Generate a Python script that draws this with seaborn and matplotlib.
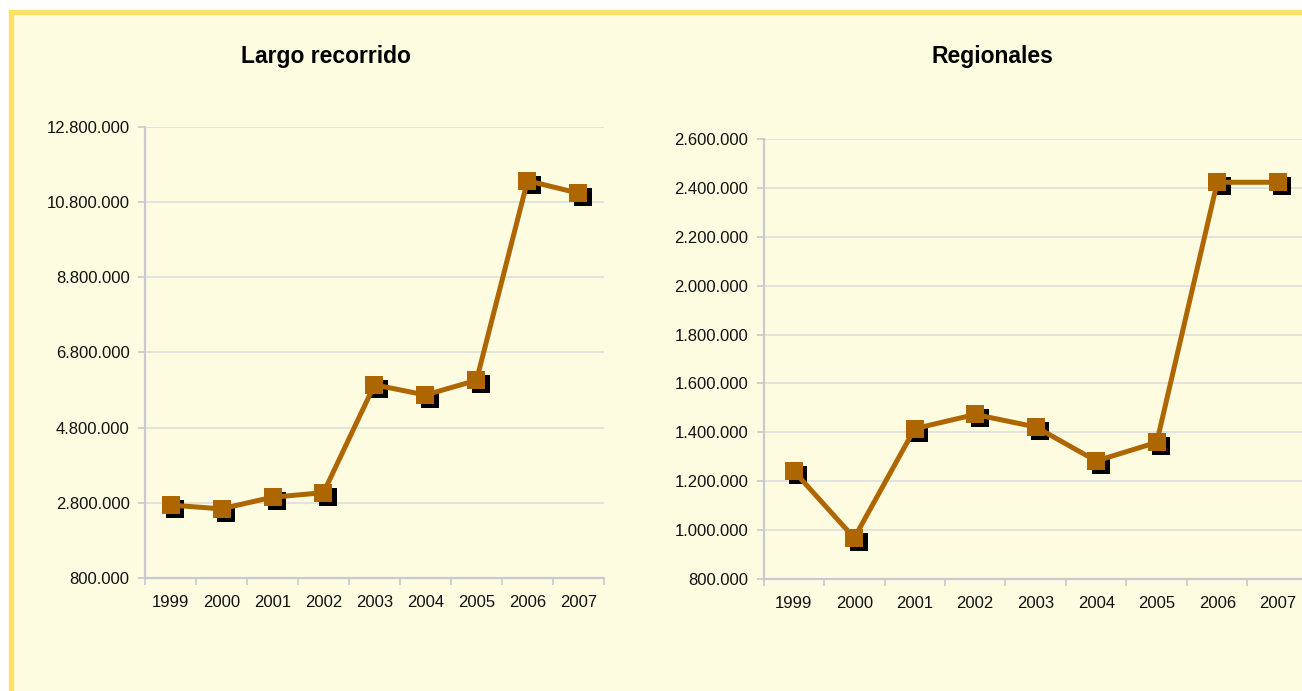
import numpy as np
import pandas as pd
import seaborn as sns
import matplotlib
matplotlib.use("Agg")
import matplotlib.pyplot as plt
from matplotlib.patches import Rectangle
from matplotlib.transforms import ScaledTranslation
from matplotlib.ticker import FuncFormatter, FixedLocator

years = ["1999", "2000", "2001", "2002", "2003", "2004", "2005", "2006", "2007"]
largo_recorrido = [2740000, 2640000, 2950000, 3070000, 5940000, 5670000, 6060000, 11370000, 11040000]
regionales = [1242000, 968000, 1415000, 1473000, 1422000, 1283000, 1359000, 2423000, 2423000]
titles = ["Largo recorrido", "Regionales"]
left_ticks = [800000, 2800000, 4800000, 6800000, 8800000, 10800000, 12800000]
right_ticks = [800000, 1000000, 1200000, 1400000, 1600000, 1800000, 2000000, 2200000, 2400000, 2600000]

sns.set_theme(style="white")
plt.rcParams['font.family'] = ['Liberation Sans', 'DejaVu Sans']

W, H = 1302, 691
fig = plt.figure(figsize=(W / 100, H / 100), dpi=100, facecolor="white")

bg = "#FEFCE0"
border = "#FFE066"
line_c = "#AE6600"
grid_c = "#DEDEDE"
spine_c = "#C9C9CF"

bg_rect = Rectangle((10.5 / W, -0.2), 1.3, 1 - 11.5 / H + 0.2, transform=fig.transFigure,
                    facecolor=bg, edgecolor=border, linewidth=3.8, zorder=-10)
fig.patches.append(bg_rect)


def fmt(v, pos=None):
    return f"{int(round(v)):,}".replace(",", ".")


def draw(ax, values, ticks, title, title_x):
    df = pd.DataFrame({"x": np.arange(len(years)), "y": values})
    ax.set_facecolor("none")
    ax.patch.set_alpha(0)
    sns.lineplot(data=df, x="x", y="y", ax=ax, color=line_c, linewidth=3.6, zorder=3,
                 solid_joinstyle="miter")
    shadow_tr = ax.transData + ScaledTranslation(4.5 / 100, -4 / 100, fig.dpi_scale_trans)
    sns.scatterplot(data=df, x="x", y="y", ax=ax, marker="s", s=150, color="black",
                    linewidth=0, zorder=2, transform=shadow_tr, legend=False)
    sns.scatterplot(data=df, x="x", y="y", ax=ax, marker="s", s=150, color=line_c,
                    linewidth=0, zorder=4, legend=False)
    ax.set_xlim(-0.5, len(years) - 0.5)
    ax.set_ylim(ticks[0], ticks[-1])
    ax.yaxis.set_major_locator(FixedLocator(ticks))
    ax.yaxis.set_major_formatter(FuncFormatter(fmt))
    ax.grid(axis="y", color=grid_c, linewidth=1.2, zorder=1)
    ax.set_axisbelow(True)
    ax.set_xticks(np.arange(len(years)))
    ax.set_xticklabels(years)
    ax.set_xticks(np.arange(-0.5, len(years)), minor=True)
    ax.tick_params(axis="x", which="major", length=0, pad=12, labelsize=12, colors="#111111")
    ax.tick_params(axis="x", which="minor", length=5, width=1.2, color=spine_c, direction="out",
                   bottom=True)
    ax.tick_params(axis="y", which="major", length=5, width=1.2, color=spine_c, direction="out",
                   pad=6, labelsize=12, labelcolor="#111111", left=True)
    ax.set_xlabel("")
    ax.set_ylabel("")
    for s in ["top", "right"]:
        ax.spines[s].set_visible(False)
    for s in ["left", "bottom"]:
        ax.spines[s].set_color(spine_c)
        ax.spines[s].set_linewidth(1.6)
    fig.text(title_x / W, 1 - 57 / H, title, ha="center", va="center", fontsize=16.5,
             fontweight="bold", color="black")


ax1 = fig.add_axes([145 / W, 1 - 578 / H, 459 / W, 451 / H])
draw(ax1, largo_recorrido, left_ticks, titles[0], 326)

ax2 = fig.add_axes([763.5 / W, 1 - 579 / H, 544.5 / W, 440 / H])
draw(ax2, regionales, right_ticks, titles[1], 992)

fig.savefig("out.png", dpi=100, facecolor="white")
